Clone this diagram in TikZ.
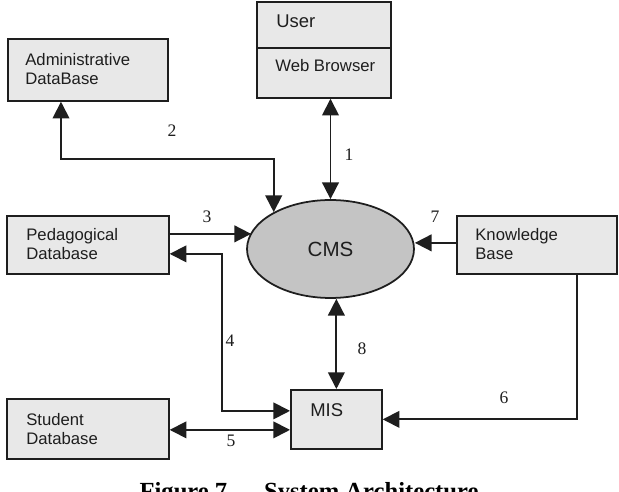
\documentclass[tikz,border=0pt]{standalone}
\usepackage{fontspec}
\setmainfont{Liberation Serif}
\newfontfamily\boxfont{Liberation Sans}
\usetikzlibrary{arrows.meta,shapes.geometric}
\definecolor{boxgray}{RGB}{232,232,232}
\definecolor{ellgray}{RGB}{196,196,196}
\definecolor{inkc}{RGB}{30,30,30}
\tikzset{
  box/.style={draw=inkc, fill=boxgray, line width=1pt, rectangle, anchor=north west, inner sep=0pt},
  lbl/.style={font=\boxfont\fontsize{9.5}{10.8}\selectfont, align=left, anchor=north west, inner sep=0pt, text=inkc},
  biglbl/.style={font=\boxfont\fontsize{10.5}{12}\selectfont, anchor=north west, inner sep=0pt, text=inkc},
  num/.style={font=\fontsize{10}{12}\selectfont, inner sep=0pt, text=inkc},
  tip/.tip={Triangle[length=9.5pt,width=9.5pt]},
  conn/.style={draw=inkc, line width=1pt, -tip},
  both/.style={draw=inkc, line width=1pt, tip-tip},
}
\begin{document}
\begin{tikzpicture}[x=0.02cm, y=-0.02cm]
\useasboundingbox[fill=white] (0,0) rectangle (619,492);

% boxes
\node[box, minimum width=3.2cm, minimum height=1.24cm] (admin) at (7,38) {};
\node[lbl] (admintxt) at (25,53) {Administrative\\DataBase};

\node[box, minimum width=2.68cm, minimum height=1.92cm] (user) at (256,1) {};
\draw[draw=inkc, line width=1pt] ([yshift=0.04cm]user.west) -- ([yshift=0.04cm]user.east);
\node[biglbl] (usertxt) at (276,14) {User};
\node[lbl] (webtxt) at (275,59) {Web Browser};

\node[box, minimum width=3.24cm, minimum height=1.16cm] (ped) at (6,215) {};
\node[lbl] (pedtxt) at (26,228) {Pedagogical\\Database};

\node[box, minimum width=3.2cm, minimum height=1.16cm] (kb) at (456,215) {};
\node[lbl] (kbtxt) at (475,228) {Knowledge\\Base};

\node[box, minimum width=1.82cm, minimum height=1.18cm] (mis) at (290,389) {};
\node[biglbl] (mistxt) at (310,403) {MIS};

\node[box, minimum width=3.24cm, minimum height=1.2cm] (stu) at (6,398) {};
\node[lbl] (stutxt) at (26,413) {Student\\Database};

\node[ellipse, draw=inkc, fill=ellgray, line width=1pt, inner sep=0pt,
      minimum width=3.34cm, minimum height=1.96cm,
      font=\boxfont\fontsize{11.7}{13}\selectfont, text=inkc] (cms) at (330.5,249) {CMS};

% helper coordinates
\coordinate (p2) at ([xshift=1.08cm]admin.south west);
\coordinate (p3) at ([yshift=0.22cm]ped.east);
\coordinate (p4) at ([yshift=-0.18cm]ped.east);
\coordinate (m4) at ([yshift=0.17cm]mis.west);
\coordinate (m5) at ([yshift=-0.21cm]mis.west);
\coordinate (p6) at ([xshift=2.42cm]kb.south west);
\coordinate (p7) at ([yshift=0.04cm]kb.west);

% connectors
\draw[both] (cms.north) -- (cms.north |- user.south);
\draw[both] (p2) -- ++(0,57) -| (cms.147);
\draw[conn] (p3) -- (p3 -| cms.168);
\draw[both] (p4) -- ++(52,0) |- (m4);
\draw[both] (stu.east |- m5) -- (m5);
\draw[conn] (p6) |- (mis.east);
\draw[conn] (p7) -- (p7 -| cms.east);
\draw[both] (mis.north) -- (mis.north |- cms.south);

% numbers
\node[num] (n1) at (349,155) {1};
\node[num] (n2) at (172,131) {2};
\node[num] (n3) at (207,217) {3};
\node[num] (n4) at (230,341) {4};
\node[num] (n5) at (231,441) {5};
\node[num] (n6) at (504,398) {6};
\node[num] (n7) at (435,217) {7};
\node[num] (n8) at (362,349) {8};

% caption
\node[font=\bfseries\fontsize{14}{16}\selectfont, anchor=base, inner sep=0pt] (cap) at (309,500) {Figure 7 \ -- \ System Architecture};
\end{tikzpicture}
\end{document}
